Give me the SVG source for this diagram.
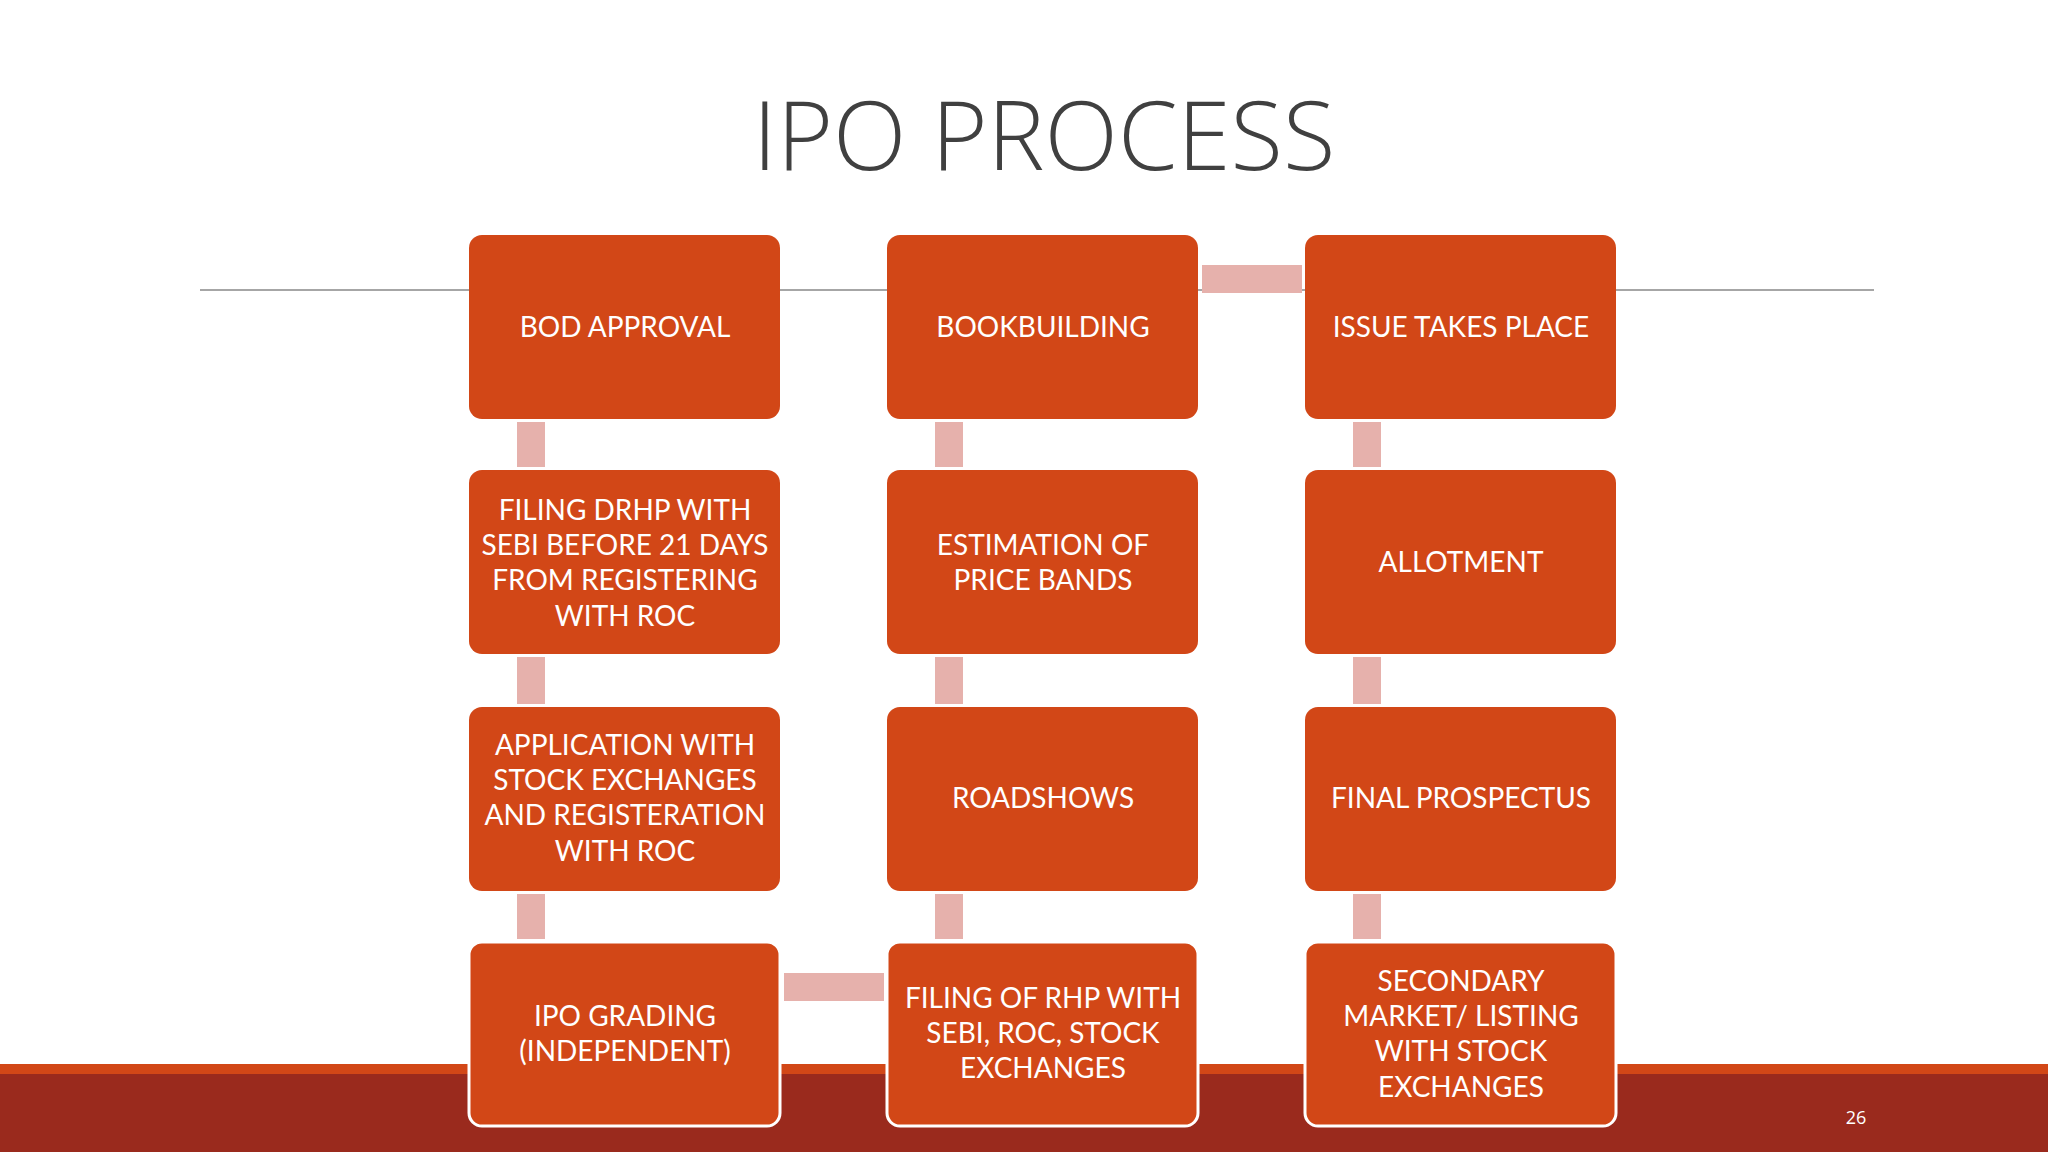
<svg xmlns="http://www.w3.org/2000/svg" width="2048" height="1152" viewBox="0 0 2048 1152">
<style>
.box{fill:#D24717;}
.bb{fill:#D24717;stroke:#fff;stroke-width:3;}
.c{fill:#E6B1AC;}
.t{fill:#fff;font-family:Lato,"Open Sans",sans-serif;font-size:28px;text-anchor:middle;}
</style>
<rect width="2048" height="1152" fill="#fff"/>
<rect x="0" y="1064" width="2048" height="88" fill="#9A2A1D"/>
<rect x="0" y="1064" width="2048" height="10" fill="#D24717"/>
<line x1="200" y1="290" x2="1874" y2="290" stroke="#A6A6A6" stroke-width="2"/>
<text x="1044" y="170" font-family="'Open Sans',sans-serif" font-weight="300" font-size="96" fill="#404040" text-anchor="middle">IPO PROCESS</text>
<g id="connectors">
<rect class="c" x="517" y="422" width="28" height="45"/>
<rect class="c" x="517" y="657" width="28" height="47"/>
<rect class="c" x="517" y="894" width="28" height="45"/>
<rect class="c" x="935" y="422" width="28" height="45"/>
<rect class="c" x="935" y="657" width="28" height="47"/>
<rect class="c" x="935" y="894" width="28" height="45"/>
<rect class="c" x="1353" y="422" width="28" height="45"/>
<rect class="c" x="1353" y="657" width="28" height="47"/>
<rect class="c" x="1353" y="894" width="28" height="45"/>
<rect class="c" x="1202" y="265" width="100" height="28"/>
<rect class="c" x="784" y="973" width="100" height="28"/>
</g>
<g id="n1"><rect class="box" x="469" y="235" width="311" height="184" rx="13"/><text class="t" x="625" y="337">BOD APPROVAL</text></g>
<g id="n2"><rect class="box" x="469" y="470" width="311" height="184" rx="13"/><text class="t" x="625" y="520">FILING DRHP WITH</text><text class="t" x="625" y="555">SEBI BEFORE 21 DAYS</text><text class="t" x="625" y="590">FROM REGISTERING</text><text class="t" x="625" y="626">WITH ROC</text></g>
<g id="n3"><rect class="box" x="469" y="707" width="311" height="184" rx="13"/><text class="t" x="625" y="755">APPLICATION WITH</text><text class="t" x="625" y="790">STOCK EXCHANGES</text><text class="t" x="625" y="825">AND REGISTERATION</text><text class="t" x="625" y="861">WITH ROC</text></g>
<g id="n4"><rect class="bb" x="469" y="942" width="311" height="184" rx="13"/><text class="t" x="625" y="1026">IPO GRADING</text><text class="t" x="625" y="1061">(INDEPENDENT)</text></g>
<g id="n5"><rect class="box" x="887" y="235" width="311" height="184" rx="13"/><text class="t" x="1043" y="337">BOOKBUILDING</text></g>
<g id="n6"><rect class="box" x="887" y="470" width="311" height="184" rx="13"/><text class="t" x="1043" y="555">ESTIMATION OF</text><text class="t" x="1043" y="590">PRICE BANDS</text></g>
<g id="n7"><rect class="box" x="887" y="707" width="311" height="184" rx="13"/><text class="t" x="1043" y="808">ROADSHOWS</text></g>
<g id="n8"><rect class="bb" x="887" y="942" width="311" height="184" rx="13"/><text class="t" x="1043" y="1008">FILING OF RHP WITH</text><text class="t" x="1043" y="1043">SEBI, ROC, STOCK</text><text class="t" x="1043" y="1078">EXCHANGES</text></g>
<g id="n9"><rect class="box" x="1305" y="235" width="311" height="184" rx="13"/><text class="t" x="1461" y="337">ISSUE TAKES PLACE</text></g>
<g id="n10"><rect class="box" x="1305" y="470" width="311" height="184" rx="13"/><text class="t" x="1461" y="572">ALLOTMENT</text></g>
<g id="n11"><rect class="box" x="1305" y="707" width="311" height="184" rx="13"/><text class="t" x="1461" y="808">FINAL PROSPECTUS</text></g>
<g id="n12"><rect class="bb" x="1305" y="942" width="311" height="184" rx="13"/><text class="t" x="1461" y="991">SECONDARY</text><text class="t" x="1461" y="1026">MARKET/ LISTING</text><text class="t" x="1461" y="1061">WITH STOCK</text><text class="t" x="1461" y="1097">EXCHANGES</text></g>
<text x="1856" y="1124" font-family="'Open Sans',sans-serif" font-size="18" fill="#fff" text-anchor="middle">26</text>
</svg>
